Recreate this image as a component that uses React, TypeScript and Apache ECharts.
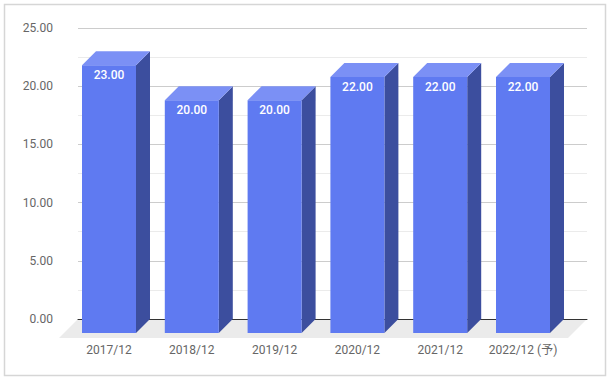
import React, { useEffect, useRef } from "react";
import * as echarts from "echarts";

const categories = ["2017/12", "2018/12", "2019/12", "2020/12", "2021/12", "2022/12 (予)"];
const values = [23, 20, 20, 22, 22, 22];
const yMin = 0;
const yMax = 25;
const yInterval = 5;

// layout
const BACK_LEFT = 78;
const BACK_RIGHT = 587;
const TOP = 28;
const PLOT_H = 291;
const DEPTH = 14;
const FLOOR_DEPTH = 19;
const FRONT_LEFT = 67.6;
const FRONT_W = 496.8;
const BAR_W = 54;

export default function App() {
  const ref = useRef<HTMLDivElement>(null);
  useEffect(() => {
    if (!ref.current) return;
    const chart = echarts.init(ref.current, undefined, { renderer: "svg" });
    const font = "Roboto, 'Noto Sans CJK JP', sans-serif";
    const zeroY = TOP + PLOT_H;
    chart.setOption({
      animation: false,
      backgroundColor: "#fff",
      textStyle: { fontFamily: font },
      grid: [
        { left: BACK_LEFT, top: TOP, width: BACK_RIGHT - BACK_LEFT, height: PLOT_H },
        { left: FRONT_LEFT, top: TOP + DEPTH, width: FRONT_W, height: PLOT_H },
      ],
      xAxis: [
        {
          type: "category",
          gridIndex: 0,
          data: categories,
          axisLine: { show: true, lineStyle: { color: "#333", width: 1 } },
          axisTick: { show: false },
          axisLabel: { show: false },
          z: 3,
        },
        {
          type: "category",
          gridIndex: 1,
          data: categories,
          axisLine: { show: false },
          axisTick: { show: false },
          axisLabel: { color: "#666", fontSize: 12, margin: 11, interval: 0, fontFamily: font },
        },
      ],
      yAxis: [
        {
          type: "value",
          gridIndex: 0,
          min: yMin,
          max: yMax,
          interval: yInterval,
          axisLine: { show: false },
          axisTick: { show: false },
          axisLabel: {
            color: "#666",
            fontSize: 12,
            margin: 25,
            fontFamily: font,
            formatter: (v: number) => v.toFixed(2),
          },
          splitLine: { show: true, lineStyle: { color: "#cccccc" } },
          minorTick: { show: false, splitNumber: 2 },
          minorSplitLine: { show: true, lineStyle: { color: "#ebebeb" } },
        },
        {
          type: "value",
          gridIndex: 1,
          min: yMin,
          max: yMax,
          interval: yInterval,
          show: false,
          splitLine: { show: false },
        },
      ],
      graphic: [
        {
          type: "rect",
          shape: { x: 4.5, y: 4.5, width: 601, height: 371 },
          style: { fill: "none", stroke: "#d6d6d6", lineWidth: 1.5 },
          z: -10,
        },
        {
          type: "polygon",
          shape: {
            points: [
              [BACK_LEFT, zeroY],
              [BACK_RIGHT, zeroY],
              [BACK_RIGHT - FLOOR_DEPTH, zeroY + FLOOR_DEPTH],
              [BACK_LEFT - FLOOR_DEPTH, zeroY + FLOOR_DEPTH],
            ],
          },
          style: { fill: "#ebebeb" },
          z: -5,
        },
      ],
      series: [
        {
          type: "custom",
          xAxisIndex: 1,
          yAxisIndex: 1,
          data: values.map((v, i) => [i, v]),
          z: 5,
          renderItem: (params: any, api: any) => {
            const idx = api.value(0);
            const val = api.value(1);
            const [xc, yTop] = api.coord([idx, val]);
            const [, y0] = api.coord([idx, 0]);
            const x0 = xc - BAR_W / 2;
            const x1 = xc + BAR_W / 2;
            const D = DEPTH;
            return {
              type: "group",
              children: [
                {
                  type: "polygon",
                  shape: { points: [[x1, yTop], [x1 + D, yTop - D], [x1 + D, y0 - D], [x1, y0]] },
                  style: { fill: "#3c4e9e" },
                },
                {
                  type: "polygon",
                  shape: { points: [[x0, yTop], [x0 + D, yTop - D], [x1 + D, yTop - D], [x1, yTop]] },
                  style: { fill: "#7b90f5" },
                },
                {
                  type: "rect",
                  shape: { x: x0, y: yTop, width: BAR_W, height: y0 - yTop },
                  style: { fill: "#5f7af1" },
                },
                {
                  type: "text",
                  x: xc,
                  y: yTop + 10,
                  style: {
                    text: val.toFixed(2),
                    fill: "#ffffff",
                    fontSize: 12,
                    fontWeight: 500,
                    fontFamily: font,
                    align: "center",
                    verticalAlign: "middle",
                  },
                },
              ],
            };
          },
        },
      ],
    });
    return () => chart.dispose();
  }, []);
  return (
    <div
      ref={ref}
      style={{ position: "absolute", left: 0, top: 0, width: 612, height: 382 }}
    />
  );
}
